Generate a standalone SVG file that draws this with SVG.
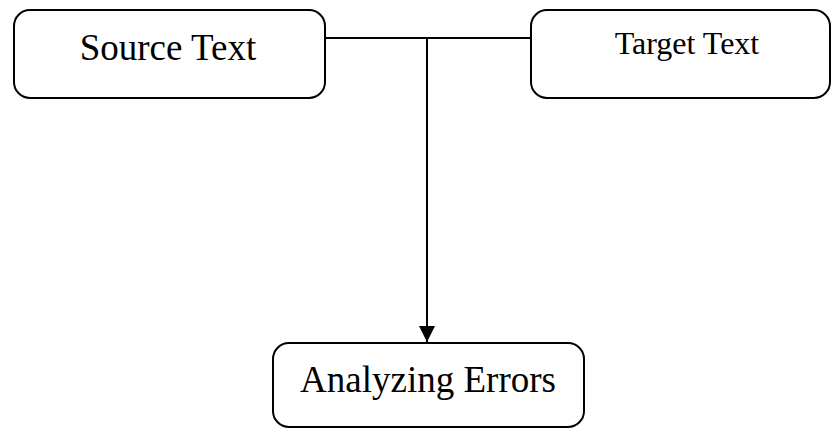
<svg xmlns="http://www.w3.org/2000/svg" width="832" height="429" viewBox="0 0 832 429">
<style>
.box{fill:#fff;stroke:#000;stroke-width:2}
.t{font-family:"Liberation Serif","Times New Roman",serif;fill:#000}
.c{fill:none;stroke:#000;stroke-width:2}
</style>
<defs>
<marker id="ah" markerWidth="8" markerHeight="8" refX="8" refY="4" orient="auto" markerUnits="strokeWidth">
<path d="M0,0 L8,4 L0,8 Z" fill="#000"/>
</marker>
</defs>
<rect width="832" height="429" fill="#fff"/>
<g id="connectors">
<line class="c" x1="326" y1="38" x2="531" y2="38"/>
<line class="c" x1="427" y1="38" x2="427" y2="342" marker-end="url(#ah)"/>
</g>
<g id="source">
<rect class="box" x="14" y="10" width="311" height="88" rx="16"/>
<text class="t" x="168" y="60" font-size="37" text-anchor="middle">Source Text</text>
</g>
<g id="target">
<rect class="box" x="531" y="10" width="299" height="88" rx="16"/>
<text class="t" x="687" y="54" font-size="32" text-anchor="middle">Target Text</text>
</g>
<g id="analyzing">
<rect class="box" x="273" y="343" width="311" height="84" rx="16"/>
<text class="t" x="428" y="392" font-size="37" text-anchor="middle">Analyzing Errors</text>
</g>
</svg>
